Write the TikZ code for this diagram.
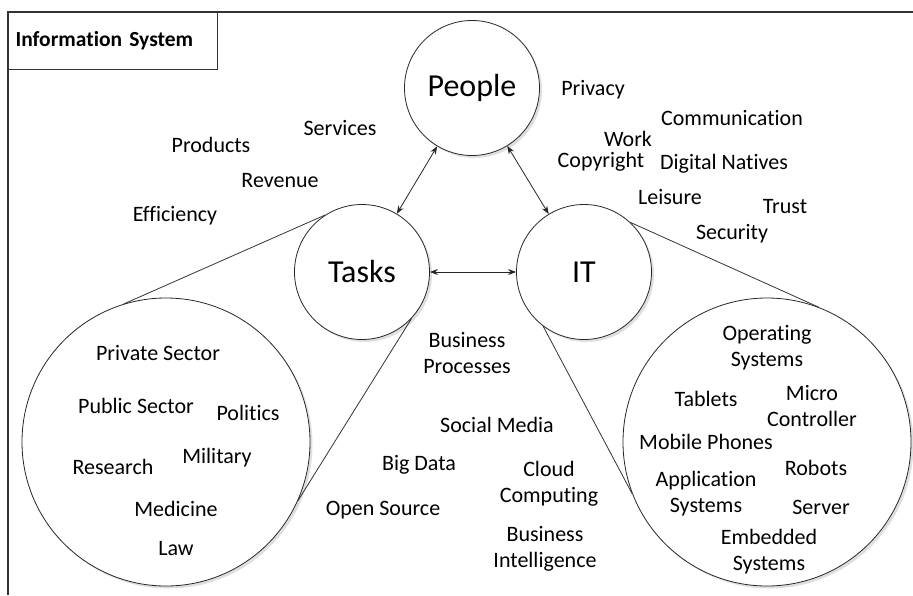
\documentclass[tikz,border=0pt]{standalone}
\usepackage{fontspec}
\setmainfont[Ligatures={NoCommon}]{Carlito}
\usetikzlibrary{shadows, arrows.meta}

\begin{document}
\begin{tikzpicture}[
    x=1pt, y=-1pt,
    line width=0.8pt,
    frame/.style={draw=black!80, line width=1.1pt},
    titlebox/.style={frame, rectangle, anchor=north west, text width=195pt, inner xsep=7pt, minimum height=57pt, align=left, font=\fontsize{21.5}{24}\selectfont\bfseries},
    topic/.style={draw=black!85, circle, minimum size=135pt, inner sep=0pt, fill=white, font=\fontsize{32}{36}\selectfont,
        drop shadow={shadow xshift=2.5pt, shadow yshift=-2.5pt, opacity=0.25}},
    detail/.style={topic, minimum size=288pt},
    word/.style={align=center, inner sep=0pt, font=\fontsize{22}{26}\selectfont},
    arrow/.style={{Stealth[length=8pt, width=6pt]}-{Stealth[length=8pt, width=6pt]}, draw=black!85},
    lens/.style={draw=black!80}
]
\useasboundingbox (0,0) rectangle (913,595);

% Frame and title
\draw[frame] (8,595) |- (913,12);
\node[titlebox] (title) at (8,12) {Information System};

% Main circles
\node[topic] (people) at (472,88) {People};
\node[topic] (tasks) at (362,272) {Tasks};
\node[topic] (it) at (584,272) {IT};

% Detail circles
\node[detail] (taskzoom) at (166,442) {};
\node[detail] (itzoom) at (767,442) {};

% Connections
\draw[arrow] (people) -- (tasks);
\draw[arrow] (people) -- (it);
\draw[arrow] (tasks) -- (it);

% Lens lines to the detail circles
\draw[lens] (tasks.123) -- (taskzoom.107);
\draw[lens] (tasks.-43) -- (taskzoom.-24);
\draw[lens] (it.47) -- (itzoom.69);
\draw[lens] (it.-127) -- (itzoom.201);

% Words round People
\node[word] (privacy) at (593,90) {Privacy};
\node[word] (communication) at (732,118) {Communication};
\node[word] (work) at (628,139) {Work};
\node[word] (copyright) at (601,162) {Copyright};
\node[word] (natives) at (724,164) {Digital Natives};
\node[word] (leisure) at (670,197) {Leisure};
\node[word] (trust) at (785,207) {Trust};
\node[word] (security) at (732,234) {Security};
\node[word] (services) at (340,128) {Services};
\node[word] (products) at (211,145) {Products};
\node[word] (revenue) at (280,181) {Revenue};
\node[word] (efficiency) at (175,216) {Efficiency};

% Words between Tasks and IT
\node[word] (processes) at (467,353) {Business\\Processes};
\node[word] (social) at (497,425) {Social Media};
\node[word] (bigdata) at (419,465) {Big Data};
\node[word] (cloud) at (549,484) {Cloud\\Computing};
\node[word] (opensource) at (383,510) {Open Source};
\node[word] (intelligence) at (545,549) {Business\\Intelligence};

% Words in the Tasks circle
\node[word] (private) at (158,353) {Private Sector};
\node[word] (public) at (136,406) {Public Sector};
\node[word] (politics) at (248,413) {Politics};
\node[word] (research) at (113,467) {Research};
\node[word] (military) at (217,458) {Military};
\node[word] (medicine) at (176,509) {Medicine};
\node[word] (law) at (176,549) {Law};

% Words in the IT circle
\node[word] (os) at (767,348) {Operating\\Systems};
\node[word] (tablets) at (706,399) {Tablets};
\node[word] (micro) at (812,406) {Micro\\Controller};
\node[word] (mobile) at (706,442) {Mobile Phones};
\node[word] (robots) at (816,468) {Robots};
\node[word] (appsys) at (706,494) {Application\\Systems};
\node[word] (server) at (821,507) {Server};
\node[word] (embedded) at (769,552) {Embedded\\Systems};

\end{tikzpicture}
\end{document}
